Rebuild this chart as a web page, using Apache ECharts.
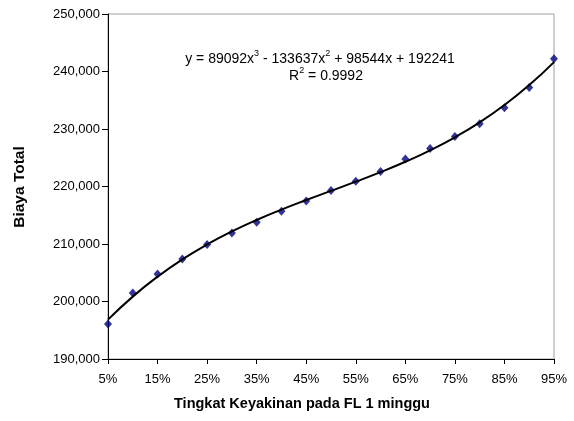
<!DOCTYPE html>
<html><head><meta charset="utf-8">
<script src="https://cdn.jsdelivr.net/npm/echarts@6/dist/echarts.min.js"></script>
<style>html,body{margin:0;padding:0;background:#fff}#c{width:574px;height:421px}</style>
</head><body><div id="c"></div>
<script>
const categories = ['5%','10%','15%','20%','25%','30%','35%','40%','45%','50%','55%','60%','65%','70%','75%','80%','85%','90%','95%'];
const levels = [0.05,0.10,0.15,0.20,0.25,0.30,0.35,0.40,0.45,0.50,0.55,0.60,0.65,0.70,0.75,0.80,0.85,0.90,0.95];
const biayaTotal = [196100,201500,204800,207400,209900,211900,213800,215700,217500,219300,220900,222600,224800,226600,228700,230900,233700,237200,242200];
// trendline coefficients as printed on the chart: a3, a2, a1, a0
const trendCoef = [89092,-133637,98544,192241];
const rSquared = '0.9992';

const trend = levels.map(x => trendCoef[0]*x*x*x + trendCoef[1]*x*x + trendCoef[2]*x + trendCoef[3]);
const fmt = v => v.toString().replace(/\B(?=(\d{3})+(?!\d))/g, ',');
const font = 'Liberation Sans, Arial, sans-serif';
const eqRich = {
  n:{fontSize:14, fontFamily:font, color:'#000', lineHeight:18, verticalAlign:'bottom'},
  s:{fontSize:9, fontFamily:font, color:'#000', lineHeight:18, verticalAlign:'top', padding:[1,0,0,0]}
};

const chart = echarts.init(document.getElementById('c'), null, {renderer:'canvas'});
chart.setOption({
  animation:false,
  backgroundColor:'#fff',
  grid:{left:108, right:20, top:14, bottom:62, show:true, borderColor:'#a0a0a0', borderWidth:1},
  xAxis:{
    type:'category', data:categories, boundaryGap:false,
    axisLine:{lineStyle:{color:'#000', width:1}},
    axisTick:{show:true, interval:1, length:5, lineStyle:{color:'#000'}},
    axisLabel:{interval:1, color:'#000', fontSize:13, fontFamily:font, margin:14},
    splitLine:{show:false}
  },
  yAxis:{
    type:'value', min:190000, max:250000, interval:10000,
    axisLine:{show:true, lineStyle:{color:'#000', width:1}},
    axisTick:{show:true, length:6, lineStyle:{color:'#000'}},
    axisLabel:{color:'#000', fontSize:13, fontFamily:font, margin:8, formatter:v=>fmt(v)},
    splitLine:{show:false}
  },
  series:[
    {type:'line', data:trend, smooth:true, showSymbol:false, symbol:'none',
     lineStyle:{color:'#000', width:2}, z:3},
    {type:'scatter', data:biayaTotal, symbol:'diamond', symbolSize:[8,9],
     itemStyle:{color:'#000080'}, z:2}
  ],
  graphic:[
    {type:'text', x:320, y:48, style:{
      text:'{n|y = 89092x}{s|3}{n| - 133637x}{s|2}{n| + 98544x + 192241}',
      rich:eqRich, align:'center'}},
    {type:'text', x:326, y:65, style:{
      text:'{n|R}{s|2}{n| = ' + rSquared + '}',
      rich:eqRich, align:'center'}},
    {type:'text', x:302, y:404, style:{
      text:'Tingkat Keyakinan pada FL 1 minggu', fontSize:14.5, fontWeight:'bold',
      fontFamily:font, fill:'#000', align:'center', verticalAlign:'middle'}},
    {type:'text', x:20, y:187, rotation:Math.PI/2, style:{
      text:'Biaya Total', fontSize:15.5, fontWeight:'bold',
      fontFamily:font, fill:'#000', align:'center', verticalAlign:'middle'}}
  ]
});
</script></body></html>
